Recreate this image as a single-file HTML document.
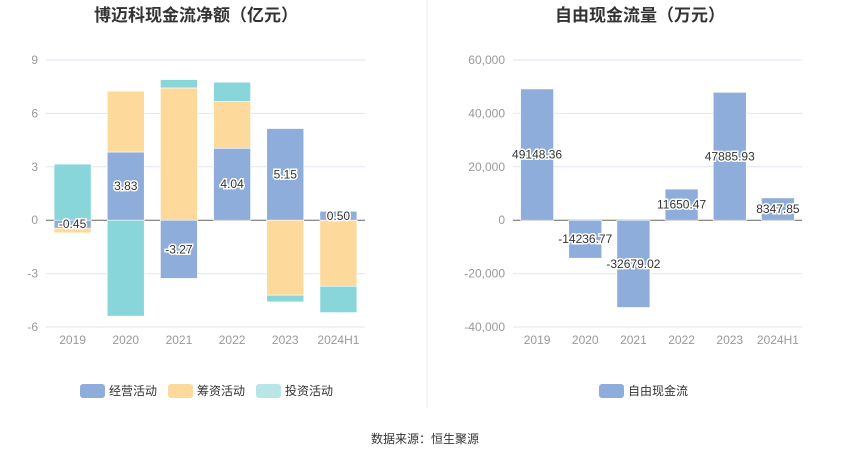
<!DOCTYPE html>
<html><head><meta charset="utf-8">
<style>
body{margin:0;background:#fff;width:850px;height:459px;overflow:hidden;font-family:"Liberation Sans","Noto Sans CJK SC",sans-serif;}
svg text{font-family:"Liberation Sans","Noto Sans CJK SC",sans-serif;}
</style></head>
<body>
<svg id="c" width="850" height="459" viewBox="0 0 850 459">
<text x="196" y="21" text-anchor="middle" font-size="17" font-weight="bold" fill="#333">博迈科现金流净额（亿元）</text>
<text x="640" y="21" text-anchor="middle" font-size="17" font-weight="bold" fill="#333">自由现金流量（万元）</text>
<line x1="427" y1="0" x2="427" y2="408" stroke="#eee"/>
<g id="L"></g><g id="R"></g>
<rect x="80" y="384" width="25" height="14" rx="3" fill="#8eadda"/>
<text x="109" y="395" font-size="12" fill="#333">经营活动</text>
<rect x="168" y="384" width="25" height="14" rx="3" fill="#fdd99b"/>
<text x="197" y="395" font-size="12" fill="#333">筹资活动</text>
<rect x="256" y="384" width="25" height="14" rx="3" fill="#b8e6e8"/>
<text x="285" y="395" font-size="12" fill="#333">投资活动</text>
<rect x="599" y="384" width="25" height="14" rx="3" fill="#8eadda"/>
<text x="628" y="395" font-size="12" fill="#333">自由现金流</text>
<text x="425" y="443" text-anchor="middle" font-size="12" fill="#333">数据来源：恒生聚源</text>
</svg>
<script>
const categories=["2019","2020","2021","2022","2023","2024H1"];
const operating=[-0.45,3.83,-3.27,4.04,5.15,0.50];
const financing=[-0.26,3.42,7.43,2.63,-4.21,-3.71];
const investing=[3.15,-5.39,0.47,1.08,-0.38,-1.48];
const leftTicks=[9,6,3,0,-3,-6];
const fcf=[49148.36,-14236.77,-32679.02,11650.47,47885.93,8347.85];
const fcfLabels=["49148.36","-14236.77","-32679.02","11650.47","47885.93","8347.85"];
const rightTicks=[60000,40000,20000,0,-20000,-40000];
const NS="http://www.w3.org/2000/svg";
function mk(p,t,a){const e=document.createElementNS(NS,t);for(const k in a)e.setAttribute(k,a[k]);p.appendChild(e);return e;}
function chart(g,x0,x1,vmax,vmin,ticks,fmt){
  const y=v=>60+(vmax-v)/(vmax-vmin)*267;
  const bw=(x1-x0)/categories.length;
  ticks.forEach(t=>{
    const l=mk(g,'line',{x1:x0,x2:x1,y1:y(t),y2:y(t),stroke:t===0?'#666':'#e0e6f1'});
    
    
    const tx=mk(g,'text',{x:x0-8,y:y(t)+4,'text-anchor':'end','font-size':12,fill:'#999'});
    tx.textContent=fmt(t);
    
    
  });
  categories.forEach((c,i)=>{
    const tx=mk(g,'text',{x:x0+bw*(i+0.5),y:344,'text-anchor':'middle','font-size':12,fill:'#999'});
    tx.textContent=c;
    
    
  });
  return {y,bw};
}
function label(g,x,yy,txt,size){
  const t=mk(g,'text',{x:x,y:yy+4,'text-anchor':'middle','font-size':size,fill:'#333',stroke:'#fff','stroke-width':3,'paint-order':'stroke'});
  t.textContent=txt;
  
  
}
// left
(function(){
  const g=document.getElementById('L');
  const {y,bw}=chart(g,46,365,9,-6,leftTicks,t=>String(t));
  const series=[[operating,'#8eadda','bar-operating'],[financing,'#fdd99b','bar-financing'],[investing,'#88d6d9','bar-investing']];
  categories.forEach((c,i)=>{
    let pos=0,neg=0;const cx=46+bw*(i+0.5),w=37;
    series.forEach(([arr,col,nm])=>{
      const v=arr[i];let a,b;
      if(v>=0){a=pos;b=pos+v;pos=b;}else{a=neg;b=neg+v;neg=b;}
      const r=mk(g,'rect',{x:cx-w/2,y:Math.min(y(a),y(b)),width:w,height:Math.abs(y(a)-y(b)),fill:col,stroke:'#fff','stroke-width':0.6});
      
      
    });
    const v=operating[i];
    label(g,cx,y(v/2),v.toFixed(2),12);
  });
})();
// right
(function(){
  const g=document.getElementById('R');
  const {y,bw}=chart(g,513,802,60000,-40000,rightTicks,t=>t.toLocaleString('en-US'));
  fcf.forEach((v,i)=>{
    const cx=513+bw*(i+0.5),w=33;
    const r=mk(g,'rect',{x:cx-w/2,y:Math.min(y(0),y(v)),width:w,height:Math.abs(y(0)-y(v)),fill:'#8eadda',stroke:'#fff','stroke-width':0.6});
    
    
  });
  fcf.forEach((v,i)=>label(g,513+bw*(i+0.5),y(v/2),fcfLabels[i],12));
})();
</script>
</body></html>
